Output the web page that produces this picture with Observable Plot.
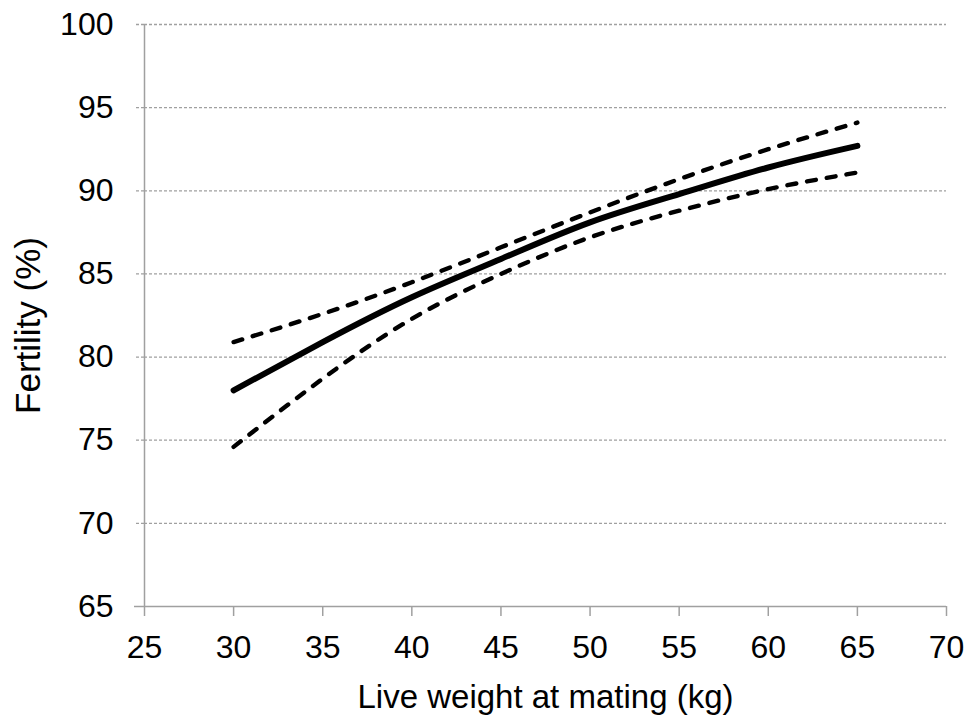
<!DOCTYPE html>
<html>
<head>
<meta charset="utf-8">
<script src="https://cdn.jsdelivr.net/npm/d3@7"></script>
<script src="https://cdn.jsdelivr.net/npm/@observablehq/plot@0.6"></script>
<style>
  html, body { margin: 0; padding: 0; background: #fff; }
  #chart svg { font-family: "Liberation Sans", Arial, sans-serif; }
</style>
</head>
<body>
<div id="chart"></div>
<script>
// Live weight at mating (kg)
const weights = [30, 35, 40, 45, 50, 55, 60, 65];
// Predicted fertility (%) and its confidence limits
const fertility = [78.0, 80.9, 83.6, 85.9, 88.1, 89.8, 91.4, 92.7];
const upperLimit = [80.9, 82.6, 84.5, 86.6, 88.7, 90.7, 92.5, 94.1];
const lowerLimit = [74.6, 78.7, 82.3, 85.0, 87.2, 88.8, 90.1, 91.1];

const xTicks = [25, 30, 35, 40, 45, 50, 55, 60, 65, 70];
const yTicks = [65, 70, 75, 80, 85, 90, 95, 100];

const toRows = (ys) => weights.map((w, i) => ({w, v: ys[i]}));
const mid = toRows(fertility);
const upper = toRows(upperLimit);
const lower = toRows(lowerLimit);

const grey = "#a0a0a0";
const dash = {stroke: "#000", strokeWidth: 4.4, strokeDasharray: "9,11", strokeLinecap: "round", curve: "natural"};

const chart = Plot.plot({
  width: 974,
  height: 717,
  marginLeft: 144,
  marginRight: 28,
  marginTop: 24,
  marginBottom: 111,
  style: {fontSize: "32px", color: "#000", background: "#fff"},
  x: {domain: [25, 70]},
  y: {domain: [65, 100]},
  marks: [
    Plot.gridY(yTicks.slice(1), {stroke: grey, strokeOpacity: 1, strokeWidth: 1.3, strokeDasharray: "3,2"}),
    Plot.axisY(yTicks.slice(1), {tickSize: 10, tickPadding: 21, stroke: grey, strokeWidth: 1.3, strokeDasharray: "3,2", fill: "#000", fontSize: 32, label: null}),
    Plot.axisY([65], {tickSize: 10, tickPadding: 21, stroke: grey, strokeWidth: 1.5, fill: "#000", fontSize: 32, label: null}),
    Plot.axisX(xTicks, {tickSize: 10, tickPadding: 19, stroke: grey, strokeWidth: 1.5, fill: "#000", fontSize: 32, label: null}),
    Plot.ruleX([25], {stroke: grey, strokeWidth: 1.5}),
    Plot.ruleY([65], {stroke: grey, strokeWidth: 1.5}),
    Plot.line(upper, {x: "w", y: "v", ...dash}),
    Plot.line(lower, {x: "w", y: "v", ...dash}),
    Plot.line(mid, {x: "w", y: "v", stroke: "#000", strokeWidth: 6, strokeLinecap: "round", curve: "natural"}),
    Plot.text(["Live weight at mating (kg)"], {frameAnchor: "bottom", textAnchor: "middle", lineAnchor: "middle", dy: 91, fontSize: 33, fill: "#000"}),
    Plot.text(["Fertility (%)"], {frameAnchor: "left", textAnchor: "middle", lineAnchor: "middle", dx: -116, dy: 10, rotate: -90, fontSize: 35, fill: "#000"})
  ]
});
document.getElementById("chart").appendChild(chart);
</script>
</body>
</html>
